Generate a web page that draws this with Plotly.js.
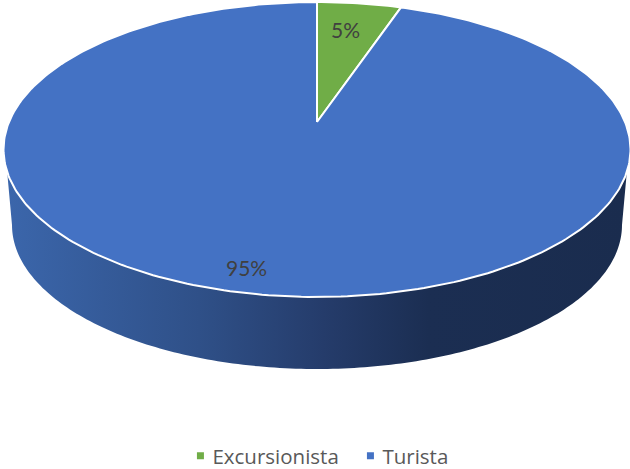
<!DOCTYPE html>
<html>
<head>
<meta charset="utf-8">
<script src="https://cdn.plot.ly/plotly-3.0.1.min.js"></script>
<style>html,body{margin:0;padding:0;background:#fff}#chart{width:630px;height:469px}</style>
</head>
<body>
<div id="chart"></div>
<script>
const categories = ["Excursionista", "Turista"];
const sliceValues = [5.2, 94.8];
const sliceColors = ["#70ad47", "#4472c4"];

const WIDTH = 630, HEIGHT = 469;
const LABEL_FONT = "Lato, 'Open Sans', sans-serif";
const LEGEND_FONT = "'Open Sans', Lato, sans-serif";

// Perspective projection of the pie's unit disc on the page
const CX = 317, PERSP = 0.1864, XS = 308, YA = -119.6, YB = 122;
function project(r, deg) {
  const t = deg * Math.PI / 180, ux = r * Math.sin(t), uy = r * Math.cos(t), d = 1 + PERSP * uy;
  return [CX + XS * ux / d, (YA * uy + YB) / d];
}

const total = sliceValues.reduce((a, b) => a + b, 0);
const traces = [];

// Side wall of the disc
const wx = [], wy = [];
const TOP_CY = 149.5, TOP_RX = 313.5, TOP_RY = 147.5, BOT_CY = 225, BOT_RX = 305, BOT_RY = 144;
const delta = Math.asin((172 - TOP_CY) / TOP_RY);
for (let i = 0; i <= 180; i++) {
  const t = Math.PI - delta - (Math.PI - 2 * delta) * i / 180;
  wx.push(CX + TOP_RX * Math.cos(t)); wy.push(TOP_CY + TOP_RY * Math.sin(t));
}
for (let i = 0; i <= 180; i++) {
  const t = Math.PI * i / 180;
  wx.push(CX + BOT_RX * Math.cos(t)); wy.push(BOT_CY + BOT_RY * Math.sin(t));
}
traces.push({
  type: "scatter", mode: "none", x: wx, y: wy, fill: "toself", showlegend: false, hoverinfo: "skip",
  fillgradient: { type: "horizontal", colorscale: [
    [0, "#3b66ab"], [0.31, "#2f5088"], [0.51, "#253c6b"], [0.68, "#1b2e52"], [1, "#1a2c4e"]
  ]}
});

// Top face slices
let start = 0;
sliceValues.forEach((v, k) => {
  const sweep = v / total * 360, xs = [], ys = [];
  const c = project(0, 0);
  xs.push(c[0]); ys.push(c[1]);
  const n = Math.max(4, Math.ceil(sweep));
  for (let i = 0; i <= n; i++) {
    const p = project(1, start + sweep * i / n);
    xs.push(p[0]); ys.push(p[1]);
  }
  xs.push(c[0]); ys.push(c[1]);
  traces.push({
    type: "scatter", mode: "lines", x: xs, y: ys, fill: "toself", fillcolor: sliceColors[k],
    line: { color: "#ffffff", width: 2 }, showlegend: false, hoverinfo: "skip"
  });
  start += sweep;
});

// Legend entries
categories.forEach((name, k) => {
  traces.push({
    type: "scatter", mode: "markers", x: [null], y: [null], name: name,
    marker: { symbol: "square", size: 7, color: sliceColors[k] }, hoverinfo: "skip"
  });
});

const labelPos = [[345, 29], [246, 267]];
const annotations = sliceValues.map((v, k) => ({
  xref: "x", yref: "y", x: labelPos[k][0], y: labelPos[k][1], showarrow: false,
  text: Math.round(v / total * 100) + "%",
  font: { family: LABEL_FONT, size: 21, color: "#404040" }
}));

const layout = {
  width: WIDTH, height: HEIGHT,
  margin: { l: 0, r: 0, t: 0, b: 0, autoexpand: false },
  paper_bgcolor: "#ffffff", plot_bgcolor: "#ffffff",
  xaxis: { range: [0, WIDTH], visible: false, fixedrange: true },
  yaxis: { range: [HEIGHT, 0], visible: false, fixedrange: true },
  showlegend: true,
  legend: {
    orientation: "h", x: 0.2737, xanchor: "left", y: -0.015, yanchor: "bottom",
    font: { family: LEGEND_FONT, size: 20.5, color: "#595959" }, itemsizing: "trace",
    entrywidth: 125, entrywidthmode: "pixels",
    bgcolor: "rgba(0,0,0,0)", traceorder: "normal"
  },
  annotations: annotations
};
Plotly.newPlot("chart", traces, layout, { staticPlot: true, displayModeBar: false }).then(gd => {
  // The legend swatches sit closer to their text than Plotly's default item layout
  gd.querySelectorAll(".legendsymbols").forEach(s => s.setAttribute("transform", "translate(8,0)"));
});
</script>
</body>
</html>
